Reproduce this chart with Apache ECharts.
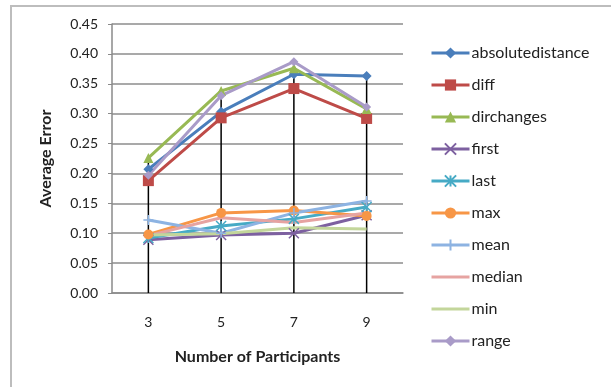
<!DOCTYPE html>
<html>
<head>
<meta charset="utf-8">
<script src="https://cdn.jsdelivr.net/npm/echarts@6/dist/echarts.min.js"></script>
<style>html,body{margin:0;padding:0;background:#fff}#c{width:611px;height:387px}</style>
</head>
<body>
<div id="c"></div>
<script>
var categories = ['3', '5', '7', '9'];
var absolutedistance = [0.207, 0.303, 0.366, 0.363];
var diff = [0.188, 0.293, 0.342, 0.292];
var dirchanges = [0.226, 0.338, 0.376, 0.308];
var first = [0.089, 0.097, 0.100, 0.130];
var last = [0.092, 0.112, 0.124, 0.144];
var max = [0.098, 0.134, 0.138, 0.129];
var mean = [0.122, 0.100, 0.134, 0.154];
var median = [0.096, 0.126, 0.118, 0.134];
var min = [0.097, 0.099, 0.109, 0.107];
var range = [0.197, 0.330, 0.387, 0.311];
var yTicks = [0, 0.05, 0.10, 0.15, 0.20, 0.25, 0.30, 0.35, 0.40, 0.45];

var FONT = 'Lato';
var LINE_ICON = 'path://M0,0L0.01,0L0.01,0.01L0,0.01Z M0,5.5L38,5.5L38,8.5L0,8.5Z M0,13.99L0.01,13.99L0.01,14L0,14Z';
var defs = [
  {name: 'absolutedistance', data: absolutedistance, color: '#4A7EBB', symbol: 'diamond', size: 10},
  {name: 'diff', data: diff, color: '#BE4B48', symbol: 'rect', size: 11},
  {name: 'dirchanges', data: dirchanges, color: '#98B954', symbol: 'triangle', size: 10},
  {name: 'first', data: first, color: '#7D60A0', symbol: 'path://M0,0L10,10M10,0L0,10', size: 10, stroke: true},
  {name: 'last', data: last, color: '#46AAC5', symbol: 'path://M0,0L10,10M10,0L0,10M5,0L5,10', size: 10, stroke: true},
  {name: 'max', data: max, color: '#F79646', symbol: 'circle', size: 10},
  {name: 'mean', data: mean, color: '#8DB3E2', symbol: 'path://M5,0L5,10M0,5L10,5', size: 10, stroke: true},
  {name: 'median', data: median, color: '#E6A3A1', symbol: 'none', size: 0},
  {name: 'min', data: min, color: '#C3D69B', symbol: 'none', size: 0},
  {name: 'range', data: range, color: '#A99BC8', symbol: 'diamond', size: 9}
];

var dropData = categories.map(function (c, i) {
  return Math.max.apply(null, defs.map(function (d) { return d.data[i]; }));
});

var series = [{
  name: 'drop', type: 'bar', data: dropData, barWidth: 1.5,
  itemStyle: {color: '#000'}, z: 1, silent: true
}];
defs.forEach(function (d) {
  series.push({
    name: d.name, type: 'line', data: d.data,
    symbol: d.symbol, symbolSize: d.size, showSymbol: d.symbol !== 'none',
    lineStyle: {color: d.color, width: 3},
    itemStyle: d.stroke ? {color: 'rgba(0,0,0,0)', borderColor: d.color, borderWidth: 1.5}
                        : {color: d.color, borderColor: d.color, borderWidth: 0},
    z: 3
  });
});

var legendData = defs.map(function (d) {
  var item = {name: d.name};
  if (d.symbol === 'none') {
    item.icon = LINE_ICON;
    item.itemStyle = {color: d.color, borderWidth: 0};
  }
  return item;
});

var chart = echarts.init(document.getElementById('c'));
chart.setOption({
  animation: false,
  graphic: [{type: 'rect', shape: {x: 11, y: 6, width: 700, height: 500},
    style: {fill: 'none', stroke: '#BDBDBD', lineWidth: 2}, z: 0}],
  grid: {left: 112, right: 208, top: 24, bottom: 94},
  legend: {
    orient: 'vertical', left: 430, top: 45, padding: 0,
    itemWidth: 38, itemHeight: 14, itemGap: 16,
    lineStyle: {width: 3},
    data: legendData,
    textStyle: {fontFamily: FONT, fontSize: 16, lineHeight: 16, color: '#222', padding: [0, 0, 0, -3]}
  },
  xAxis: {
    type: 'category', data: categories, boundaryGap: true,
    name: 'Number of Participants', nameLocation: 'middle', nameGap: 56,
    nameTextStyle: {fontFamily: FONT, fontSize: 16, fontWeight: 'bold', color: '#222'},
    axisLine: {lineStyle: {color: '#8A8A8A', width: 1.5}},
    axisTick: {show: false},
    axisLabel: {fontFamily: FONT, fontSize: 14, color: '#222', margin: 22}
  },
  yAxis: {
    type: 'value', min: 0, max: 0.45, interval: 0.05,
    name: 'Average Error', nameLocation: 'middle', nameGap: 58, nameRotate: 90,
    nameTextStyle: {fontFamily: FONT, fontSize: 16, fontWeight: 'bold', color: '#222'},
    axisLine: {show: true, lineStyle: {color: '#8A8A8A', width: 1.5}},
    axisTick: {show: true, length: 4, lineStyle: {color: '#8A8A8A'}},
    splitLine: {lineStyle: {color: '#8C8C8C', width: 1.5}},
    axisLabel: {fontFamily: FONT, fontSize: 14, color: '#222', margin: 14,
      formatter: function (v) { return v.toFixed(2); }}
  },
  series: series
});
</script>
</body>
</html>
